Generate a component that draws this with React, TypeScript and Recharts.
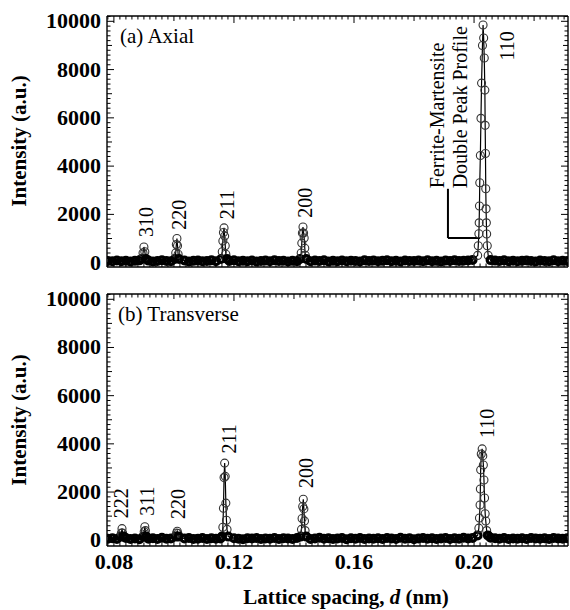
import React from 'react';
import { LineChart, Line, XAxis, YAxis, ReferenceDot, ReferenceLine } from 'recharts';

const FONT = '"Liberation Serif", "Times New Roman", Times, serif';

// sampling grid of the flat background (nm)
const baseD = [
  0.0780, 0.0795, 0.0810, 0.0825, 0.0840, 0.0855, 0.0870, 0.0885, 0.0900, 0.0915,
  0.0930, 0.0945, 0.0960, 0.0975, 0.0990, 0.1005, 0.1020, 0.1035, 0.1050, 0.1065,
  0.1080, 0.1095, 0.1110, 0.1125, 0.1140, 0.1155, 0.1170, 0.1185, 0.1200, 0.1215,
  0.1230, 0.1245, 0.1260, 0.1275, 0.1290, 0.1305, 0.1320, 0.1335, 0.1350, 0.1365,
  0.1380, 0.1395, 0.1410, 0.1425, 0.1440, 0.1455, 0.1470, 0.1485, 0.1500, 0.1515,
  0.1530, 0.1545, 0.1560, 0.1575, 0.1590, 0.1605, 0.1620, 0.1635, 0.1650, 0.1665,
  0.1680, 0.1695, 0.1710, 0.1725, 0.1740, 0.1755, 0.1770, 0.1785, 0.1800, 0.1815,
  0.1830, 0.1845, 0.1860, 0.1875, 0.1890, 0.1905, 0.1920, 0.1935, 0.1950, 0.1965,
  0.1980, 0.1995, 0.2010, 0.2025, 0.2040, 0.2055, 0.2070, 0.2085, 0.2100, 0.2115,
  0.2130, 0.2145, 0.2160, 0.2175, 0.2190, 0.2205, 0.2220, 0.2235, 0.2250, 0.2265,
  0.2280, 0.2295, 0.2310,
];

const axialBase = [
  70, 55, 90, 60, 80, 45, 75, 95, 60, 85,
  50, 70, 100, 65, 55, 80, 60, 90, 45, 75,
  85, 55, 70, 95, 60, 50, 80, 65, 100, 55,
  75, 60, 90, 45, 70, 85, 55, 95, 65, 80,
  50, 75, 60, 90, 70, 55, 85, 65, 100, 50,
  75, 60, 90, 55, 80, 70, 45, 95, 65, 85,
  55, 75, 100, 60, 80, 50, 90, 65, 70, 85,
  55, 95, 60, 75, 50, 85, 70, 100, 65, 80,
  90, 110, 130, 150, 140, 105, 85, 70, 95, 60,
  80, 55, 75, 90, 65, 50, 85, 70, 60, 95,
  55, 75, 65,
];

const transBase = [
  60, 85, 50, 75, 95, 55, 70, 45, 90, 65,
  80, 55, 100, 60, 75, 50, 85, 70, 95, 55,
  65, 90, 50, 80, 60, 75, 100, 55, 85, 65,
  45, 80, 70, 95, 55, 75, 60, 90, 50, 85,
  70, 55, 95, 65, 80, 50, 75, 100, 60, 85,
  55, 70, 90, 45, 80, 65, 95, 55, 75, 60,
  85, 50, 90, 70, 55, 100, 65, 80, 45, 75,
  95, 60, 85, 55, 70, 90, 50, 80, 65, 100,
  75, 95, 120, 140, 130, 100, 80, 60, 90, 55,
  75, 65, 85, 50, 95, 70, 60, 80, 55, 90,
  70, 60, 85,
];

// peak profiles, [d (nm), intensity]
const axial310 = [[0.0893, 150], [0.0897, 400], [0.0900, 650], [0.0903, 450], [0.0907, 150]];
const axial220 = [[0.1003, 150], [0.1006, 400], [0.1008, 750], [0.1010, 1000], [0.1012, 700], [0.1014, 350], [0.1017, 150]];
const axial211 = [[0.1157, 150], [0.1161, 450], [0.1163, 900], [0.1165, 1250], [0.1167, 1440], [0.1169, 1100], [0.1171, 700], [0.1173, 350], [0.1177, 150]];
const axial200 = [[0.1420, 150], [0.1424, 400], [0.1426, 810], [0.1428, 1230], [0.1430, 1480], [0.1432, 1230], [0.1434, 1020], [0.1436, 600], [0.1438, 300], [0.1441, 150]];
const axial110 = [
  [0.2012, 300], [0.2014, 700], [0.2016, 1200], [0.2017, 1650], [0.2018, 2350], [0.2019, 3310],
  [0.2021, 4440], [0.2023, 5980], [0.2025, 7440], [0.2028, 9000], [0.2030, 9850], [0.2032, 9310],
  [0.2034, 8480], [0.2036, 7150], [0.2037, 5690], [0.2038, 4520], [0.2039, 3060], [0.2040, 2230],
  [0.2041, 1650], [0.2042, 1190], [0.2044, 700], [0.2047, 300],
];

const trans222 = [[0.0822, 150], [0.0825, 300], [0.0827, 480], [0.0829, 300], [0.0832, 150]];
const trans311 = [[0.0898, 150], [0.0901, 350], [0.0903, 560], [0.0905, 400], [0.0908, 150]];
const trans220 = [[0.1006, 150], [0.1009, 300], [0.1011, 370], [0.1013, 280], [0.1016, 150]];
const trans211 = [[0.1160, 150], [0.1163, 540], [0.1165, 1330], [0.1167, 2600], [0.1169, 3200], [0.1171, 2650], [0.1173, 1540], [0.1175, 830], [0.1177, 450], [0.1181, 150]];
const trans200 = [[0.1422, 150], [0.1425, 450], [0.1427, 900], [0.1429, 1400], [0.1431, 1700], [0.1433, 1300], [0.1435, 800], [0.1437, 400], [0.1441, 150]];
const trans110 = [
  [0.2012, 200], [0.2016, 500], [0.2018, 920], [0.2020, 1460], [0.2021, 2125], [0.2022, 2920],
  [0.2024, 3580], [0.2027, 3790], [0.2029, 3500], [0.2031, 3125], [0.2033, 2500], [0.2035, 1750],
  [0.2037, 1100], [0.2039, 800], [0.2042, 400], [0.2046, 200],
];

// reflection labels: text, d, intensity of label centre
const axialNotes = [
  { text: '310', d: 0.0905, i: 1690 },
  { text: '220', d: 0.1018, i: 1980 },
  { text: '211', d: 0.1175, i: 2400 },
  { text: '200', d: 0.1437, i: 2480 },
  { text: '110', d: 0.2110, i: 8980 },
];
const transNotes = [
  { text: '222', d: 0.0823, i: 1540 },
  { text: '311', d: 0.0910, i: 1620 },
  { text: '220', d: 0.1012, i: 1500 },
  { text: '211', d: 0.1182, i: 4210 },
  { text: '200', d: 0.1440, i: 2790 },
  { text: '110', d: 0.2043, i: 4850 },
];

const X_DOMAIN = [0.0777, 0.2313];
const Y_DOMAIN_TOP = [-180, 10220];
const Y_DOMAIN_BOTTOM = [-240, 10220];

const xTicks: number[] = [];
for (let v = 78; v <= 230; v += 2) xTicks.push(v / 1000);
const yTicks: number[] = [];
for (let v = 0; v <= 10200; v += 200) yTicks.push(v);

function buildSeries(base: number[], peaks: number[][][]) {
  const ranges = peaks.map((p) => [p[0][0], p[p.length - 1][0]]);
  const pts = baseD
    .map((d, k) => ({ d, i: base[k] }))
    .filter((p) => !ranges.some(([a, b]) => p.d >= a - 0.0004 && p.d <= b + 0.0004));
  peaks.forEach((p) => p.forEach(([d, i]) => pts.push({ d, i })));
  return pts.sort((a, b) => a.d - b.d);
}

const axialData = buildSeries(axialBase, [axial310, axial220, axial211, axial200, axial110]);
const transData = buildSeries(transBase, [trans222, trans311, trans220, trans211, trans200, trans110]);

function xTickLen(v: number) {
  const k = Math.round(v * 1000);
  if (k % 40 === 0) return 7;
  if (k % 20 === 0) return 5;
  return 3.5;
}

function yTickLen(v: number) {
  if (v % 2000 === 0) return 7;
  if (v % 1000 === 0) return 5;
  return 3.5;
}

const BottomTick = (showLabel: boolean) => (props: any) => {
  const { x, y, payload } = props;
  const k = Math.round(payload.value * 1000);
  return (
    <g>
      <line x1={x} x2={x} y1={y} y2={y - xTickLen(payload.value)} stroke="#000" strokeWidth={1} />
      {showLabel && k % 40 === 0 && (
        <text x={x} y={y + 23} textAnchor="middle" fontFamily={FONT} fontWeight="bold" fontSize={22} fill="#000">
          {(k / 1000).toFixed(2)}
        </text>
      )}
    </g>
  );
};

const TopTick = (props: any) => {
  const { x, y, payload } = props;
  return <line x1={x} x2={x} y1={y} y2={y + xTickLen(payload.value)} stroke="#000" strokeWidth={1} />;
};

const LeftTick = (props: any) => {
  const { x, y, payload } = props;
  const v = payload.value;
  return (
    <g>
      <line x1={x} x2={x + yTickLen(v)} y1={y} y2={y} stroke="#000" strokeWidth={1} />
      {v % 2000 === 0 && (
        <text x={x - 6} y={y + 7} textAnchor="end" fontFamily={FONT} fontWeight="bold" fontSize={22} fill="#000">
          {v}
        </text>
      )}
    </g>
  );
};

const RightTick = (props: any) => {
  const { x, y, payload } = props;
  return <line x1={x} x2={x - yTickLen(payload.value)} y1={y} y2={y} stroke="#000" strokeWidth={1} />;
};

// open circles; background points overlap into a dark band
const Ring = (props: any) => {
  const { cx, cy, payload, index } = props;
  if (cx == null || cy == null) return null;
  const low = payload.i < 250;
  return (
    <circle
      key={index}
      cx={cx}
      cy={cy}
      r={low ? 3.4 : 4}
      fill="none"
      stroke={low ? '#000' : '#333'}
      strokeWidth={low ? 3.2 : 1.1}
    />
  );
};

const axisStroke = { stroke: '#000', strokeWidth: 1.4 };

function Panel({ data, notes, height, margin, showXLabels, yDomain, extra }: any) {
  return (
    <LineChart width={570} height={height} data={data} margin={margin}>
      <XAxis
        xAxisId="b"
        type="number"
        dataKey="d"
        domain={X_DOMAIN}
        allowDataOverflow
        ticks={xTicks}
        interval={0}
        height={1}
        tickSize={0}
        tickMargin={0}
        tickLine={false}
        axisLine={axisStroke}
        tick={BottomTick(showXLabels)}
      />
      <XAxis
        xAxisId="t"
        orientation="top"
        type="number"
        dataKey="d"
        domain={X_DOMAIN}
        allowDataOverflow
        ticks={xTicks}
        interval={0}
        height={1}
        tickSize={0}
        tickMargin={0}
        tickLine={false}
        axisLine={axisStroke}
        tick={TopTick}
      />
      <YAxis
        yAxisId="l"
        type="number"
        domain={yDomain}
        allowDataOverflow
        ticks={yTicks}
        interval={0}
        width={1}
        tickSize={0}
        tickMargin={0}
        tickLine={false}
        axisLine={axisStroke}
        tick={LeftTick}
      />
      <YAxis
        yAxisId="r"
        orientation="right"
        type="number"
        domain={yDomain}
        allowDataOverflow
        ticks={yTicks}
        interval={0}
        width={1}
        tickSize={0}
        tickMargin={0}
        tickLine={false}
        axisLine={axisStroke}
        tick={RightTick}
      />
      <Line
        xAxisId="b"
        yAxisId="l"
        type="linear"
        dataKey="i"
        stroke="#000"
        strokeWidth={1.2}
        dot={Ring}
        activeDot={false}
        isAnimationActive={false}
      />
      {notes.map((n: any) => (
        <ReferenceDot
          key={n.text + n.d}
          xAxisId="b"
          yAxisId="l"
          x={n.d}
          y={n.i}
          r={0}
          stroke="none"
          label={{ value: n.text, angle: -90, position: 'center', fontFamily: FONT, fontSize: 20, fill: '#000' }}
        />
      ))}
      {extra}
    </LineChart>
  );
}

const bracket = [
  <ReferenceLine
    key="v"
    xAxisId="b"
    yAxisId="l"
    segment={[{ x: 0.1913, y: 3060 }, { x: 0.1913, y: 1020 }]}
    stroke="#000"
    strokeWidth={2}
  />,
  <ReferenceLine
    key="h"
    xAxisId="b"
    yAxisId="l"
    segment={[{ x: 0.1913, y: 1020 }, { x: 0.2020, y: 1020 }]}
    stroke="#000"
    strokeWidth={2}
  />,
  <ReferenceDot
    key="t1"
    xAxisId="b"
    yAxisId="l"
    x={0.1877}
    y={6100}
    r={0}
    stroke="none"
    label={{ value: 'Ferrite-Martensite', angle: -90, position: 'center', fontFamily: FONT, fontSize: 20, fill: '#000' }}
  />,
  <ReferenceDot
    key="t2"
    xAxisId="b"
    yAxisId="l"
    x={0.1953}
    y={6440}
    r={0}
    stroke="none"
    label={{ value: 'Double Peak Profile', angle: -90, position: 'center', fontFamily: FONT, fontSize: 20, fill: '#000' }}
  />,
];

export default function App() {
  return (
    <div style={{ position: 'absolute', left: 0, top: 0, width: 570, height: 610, background: '#fff' }}>
      <div style={{ position: 'absolute', left: 0, top: 0 }}>
        <Panel
          data={axialData}
          notes={axialNotes}
          height={280}
          margin={{ top: 15, right: 1, bottom: 12, left: 106 }}
          showXLabels={false}
          yDomain={Y_DOMAIN_TOP}
          extra={bracket}
        />
      </div>
      <div style={{ position: 'absolute', left: 0, top: 280 }}>
        <Panel
          data={transData}
          notes={transNotes}
          height={330}
          margin={{ top: 13, right: 1, bottom: 63, left: 106 }}
          showXLabels={true}
          yDomain={Y_DOMAIN_BOTTOM}
        />
      </div>
      <svg width={570} height={610} style={{ position: 'absolute', left: 0, top: 0, pointerEvents: 'none' }}>
        <g fontFamily={FONT} fill="#000">
          <text x={120} y={43} fontSize={21}>(a) Axial</text>
          <text x={118} y={321} fontSize={21}>(b) Transverse</text>
          <text x={26} y={141} fontSize={21} fontWeight="bold" textAnchor="middle" transform="rotate(-90, 26, 141)">
            Intensity (a.u.)
          </text>
          <text x={26} y={420} fontSize={21} fontWeight="bold" textAnchor="middle" transform="rotate(-90, 26, 420)">
            Intensity (a.u.)
          </text>
          <text x={346} y={604} fontSize={21} fontWeight="bold" textAnchor="middle">
            Lattice spacing, <tspan fontStyle="italic">d</tspan> (nm)
          </text>
        </g>
      </svg>
    </div>
  );
}
